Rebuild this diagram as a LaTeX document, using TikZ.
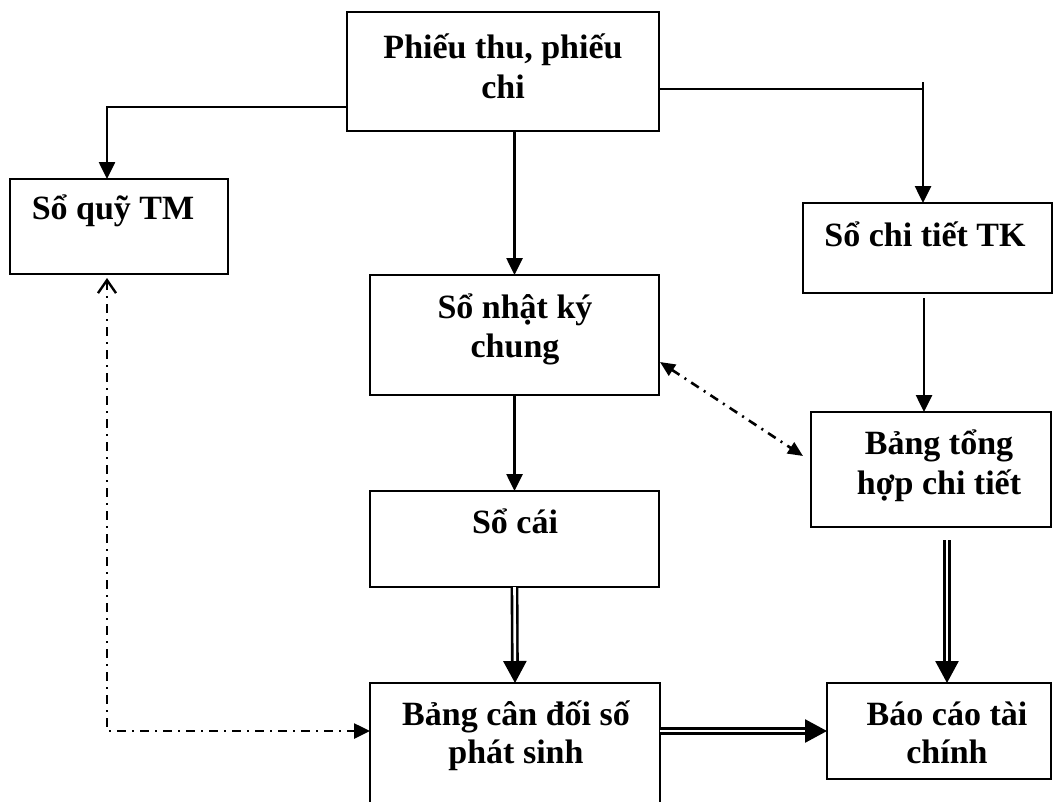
\documentclass[tikz,border=0pt]{standalone}
\usepackage{fontspec}
\setmainfont{Liberation Serif}
\usetikzlibrary{arrows.meta,calc}

\begin{document}
\begin{tikzpicture}[x=1pt,y=-1pt,
  box/.style={draw, line width=2.5pt, inner sep=0pt, outer sep=0pt, anchor=north west},
  lbl/.style={font=\fontsize{34}{39}\selectfont\bfseries, anchor=base, inner sep=0pt},
  flow/.style={line width=2.6pt, -{Triangle[length=17pt,width=16pt]}},
  plain/.style={line width=2.6pt},
  dbl/.style={double, double distance=2.6pt, line width=2.6pt, -{Triangle[length=22pt,width=23pt]}},
  dd/.style={line width=2.6pt, dash pattern=on 9pt off 6pt on 2pt off 6pt},
]
\useasboundingbox (0,0) rectangle (1062,801);
\clip (0,0) rectangle (1062,801);

% boxes
\node[box, minimum width=312pt, minimum height=119pt] (phieu)   at (347,12)  {};
\node[box, minimum width=218pt, minimum height=95pt]  (soquy)   at (10,179)  {};
\node[box, minimum width=249pt, minimum height=90pt]  (chitiet) at (803,203) {};
\node[box, minimum width=289pt, minimum height=120pt] (nhatky)  at (370,275) {};
\node[box, minimum width=240pt, minimum height=115pt] (tonghop) at (811,412) {};
\node[box, minimum width=289pt, minimum height=96pt]  (socai)   at (370,491) {};
\node[box, minimum width=290pt, minimum height=140pt] (candoi)  at (370,683) {};
\node[box, minimum width=224pt, minimum height=96pt]  (baocao)  at (827,683) {};

% texts
\node[lbl] (t-phieu1)   at (503,58)  {Phiếu thu, phiếu};
\node[lbl] (t-phieu2)   at (503,98)  {chi};
\node[lbl] (t-soquy)    at (113,219) {Sổ quỹ TM};
\node[lbl] (t-chitiet)  at (925,246) {Sổ chi tiết TK};
\node[lbl] (t-nhatky1)  at (515,318) {Sổ nhật ký};
\node[lbl] (t-nhatky2)  at (515,357) {chung};
\node[lbl] (t-tonghop1) at (939,454) {Bảng tổng};
\node[lbl] (t-tonghop2) at (939,494) {hợp chi tiết};
\node[lbl] (t-socai)    at (515,533) {Sổ cái};
\node[lbl] (t-candoi1)  at (516,725) {Bảng cân đối số};
\node[lbl] (t-candoi2)  at (516,763) {phát sinh};
\node[lbl] (t-baocao1)  at (947,725) {Báo cáo tài};
\node[lbl] (t-baocao2)  at (947,763) {chính};

% solid connectors
\draw[flow] ($(phieu.north west)+(0,95)$) -| ($(soquy.north west)+(97,0)$);
\draw[flow] (phieu.south -| nhatky.north) -- (nhatky.north);
\coordinate (tick) at ($(chitiet.north west)+(120,-121)$);
\draw[plain] ($(phieu.north east)+(0,77)$) -- ($(chitiet.north west)+(120,-114)$);
\draw[flow] (tick) -- ($(chitiet.north west)+(120,0)$);
\draw[flow] ($(chitiet.south west)+(121,5)$) -- ($(tonghop.north west)+(113,0)$);
\draw[flow] (nhatky.south) -- (socai.north);

% double connectors
\draw[dbl] (socai.south) -- (candoi.north);
\draw[dbl] ($(tonghop.north west)+(136,128)$) -- ($(baocao.north west)+(120,0)$);
\draw[dbl] (candoi.east |- baocao.west) -- (baocao.west);

% dash-dot connectors
\draw[dd, {Triangle[length=15pt,width=13pt]}-{Triangle[length=15pt,width=13pt]}]
  ($(nhatky.south east)+(1,-33)$) -- ($(tonghop.north west)+(-8,44)$);
\draw[dd, {Straight Barb[length=13pt,width=18pt,line width=2.4pt]}-{Triangle[length=16pt,width=15pt]}]
  ($(soquy.south west)+(97,4)$) |- ($(candoi.north west)+(0,48)$);
\end{tikzpicture}
\end{document}
